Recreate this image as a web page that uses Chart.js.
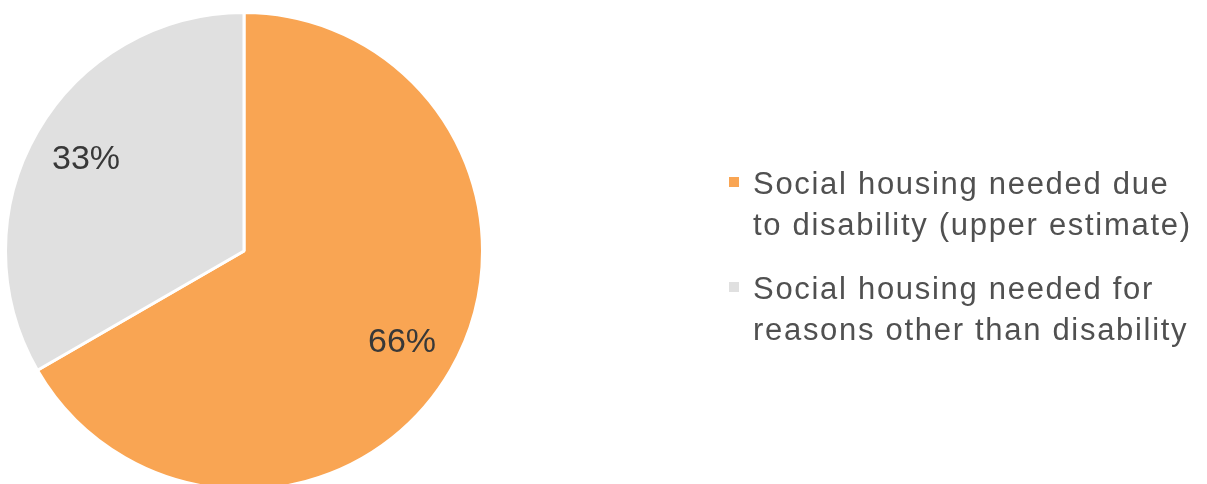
<!DOCTYPE html>
<html>
<head>
<meta charset="utf-8">
<title>Social housing need</title>
<script src="https://cdn.jsdelivr.net/npm/chart.js@4"></script>
<style>
  html, body { margin: 0; padding: 0; background: #ffffff; overflow: hidden; }
  #wrap { position: absolute; left: 0; top: 0; width: 1207px; height: 492px; }
</style>
</head>
<body>
<div id="wrap"><canvas id="chart" width="1207" height="492"></canvas></div>
<script>
// Share of social housing need, by reason
const categories = [
  ["Social housing needed due", "to disability (upper estimate)"],
  ["Social housing needed for", "reasons other than disability"]
];
const shares = [66, 33];
const valueLabels = ["66%", "33%"];
const sliceColors = ["#F9A553", "#E0E0E0"];

// Percent labels inside each slice, placed along the slice's middle angle
const sliceLabels = {
  id: "sliceLabels",
  afterDatasetsDraw(chart) {
    const ctx = chart.ctx;
    const arcs = chart.getDatasetMeta(0).data;
    ctx.save();
    ctx.font = "34px 'Liberation Sans', Arial, sans-serif";
    ctx.fillStyle = "#383838";
    ctx.textAlign = "center";
    ctx.textBaseline = "middle";
    arcs.forEach((arc, i) => {
      const p = arc.getProps(["x", "y", "startAngle", "endAngle", "outerRadius"], true);
      const mid = (p.startAngle + p.endAngle) / 2;
      const r = p.outerRadius * 0.765;
      ctx.fillText(valueLabels[i], p.x + Math.cos(mid) * r, p.y + Math.sin(mid) * r);
    });
    ctx.restore();
  }
};

// Legend on the right with two-line labels
const sideLegend = {
  id: "sideLegend",
  afterDraw(chart) {
    const ctx = chart.ctx;
    const colors = chart.data.datasets[0].backgroundColor;
    const textX = 753;
    const boxX = 729;
    const boxSize = 10;
    const lineGap = 41;
    const itemTops = [194, 299];
    ctx.save();
    ctx.font = "31px 'Liberation Sans', Arial, sans-serif";
    ctx.letterSpacing = "1.7px";
    ctx.textAlign = "left";
    ctx.textBaseline = "alphabetic";
    chart.data.labels.forEach((lines, i) => {
      const base = itemTops[i];
      ctx.fillStyle = colors[i];
      ctx.fillRect(boxX, base - 17, boxSize, boxSize);
      ctx.fillStyle = "#505050";
      lines.forEach((line, j) => ctx.fillText(line, textX, base + j * lineGap));
    });
    ctx.restore();
  }
};

new Chart(document.getElementById("chart"), {
  type: "pie",
  data: {
    labels: categories,
    datasets: [{
      data: shares,
      backgroundColor: sliceColors,
      borderColor: "#ffffff",
      borderWidth: 3
    }]
  },
  options: {
    responsive: false,
    animation: false,
    layout: { padding: { left: 4, top: 11, right: 723, bottom: 1 } },
    plugins: {
      legend: { display: false },
      tooltip: { enabled: false }
    }
  },
  plugins: [sliceLabels, sideLegend]
});
</script>
</body>
</html>
